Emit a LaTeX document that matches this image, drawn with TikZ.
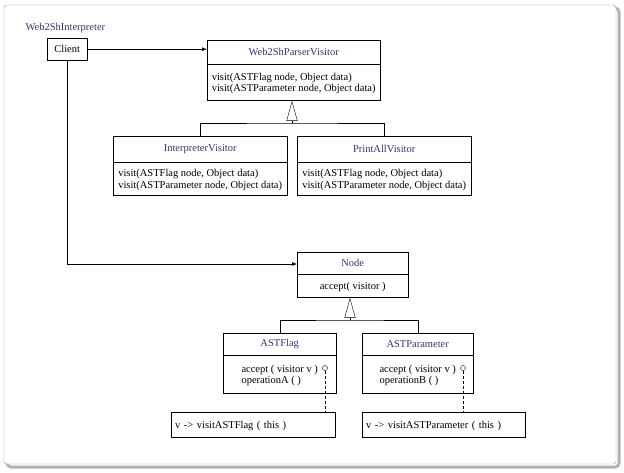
\documentclass[tikz,border=0pt]{standalone}
\usepackage{fontspec}
\setmainfont{Liberation Serif}
\usetikzlibrary{arrows.meta}
\definecolor{titleblue}{HTML}{33337a}
\begin{document}
\begin{tikzpicture}[x=1pt, y=-1pt, font=\fontsize{10.5}{11.5}\selectfont,
  head/.style={draw, anchor=north west, inner sep=0pt, text=titleblue},
  body/.style={draw, anchor=north west, inner sep=3pt, align=left, text depth=0pt},
  note/.style={draw, anchor=north west, inner xsep=4pt, inner ysep=0pt, minimum height=25pt, text depth=0pt},
  inherit/.style={-{Triangle[open, width=11pt, length=20pt]}}]
        \useasboundingbox (0,0) rectangle (624,473);
        % Frame
        \draw[gray!60, line width=3pt, rounded corners=4pt] (7,8) rectangle (619,467);
        \draw[gray!80, fill=white, rounded corners=3pt] (4,5) rectangle (616,464);

        % Classes
        \node [anchor=west, text=titleblue] (pkg) at (22,28) {Web2ShInterpreter};
        \node [head, minimum width=40pt, minimum height=22pt, text=black] (client) at (47,38) {Client};

        \node [head, minimum width=173pt, minimum height=24pt] (pv) at (207,40) {Web2ShParserVisitor};
        \node [body, minimum width=173pt, minimum height=36pt] (pvb) at (pv.south west) {visit(ASTFlag node, Object data)\\visit(ASTParameter node, Object data)};

        \node [head, minimum width=174pt, minimum height=26pt] (iv) at (113,136) {InterpreterVisitor};
        \node [body, minimum width=174pt, minimum height=33pt] (ivb) at (iv.south west) {visit(ASTFlag node, Object data)\\visit(ASTParameter node, Object data)};

        \node [head, minimum width=174pt, minimum height=26pt] (pa) at (297,136) {PrintAllVisitor};
        \node [body, minimum width=174pt, minimum height=33pt] (pab) at (pa.south west) {visit(ASTFlag node, Object data)\\visit(ASTParameter node, Object data)};

        \node [head, minimum width=111pt, minimum height=22pt] (nd) at (297,252) {Node};
        \node [body, minimum width=111pt, minimum height=23pt] (ndb) at (nd.south west) {accept( visitor )};

        \node [head, minimum width=113pt, minimum height=22pt] (fl) at (223,333) {ASTFlag};
        \node [body, minimum width=113pt, minimum height=38pt] (flb) at (fl.south west) {accept ( visitor v )\\operationA ( )};

        \node [head, minimum width=111pt, minimum height=22pt] (pr) at (362,333) {ASTParameter};
        \node [body, minimum width=111pt, minimum height=38pt] (prb) at (pr.south west) {accept ( visitor v )\\operationB ( )};

        % Notes
        \node [note, minimum width=164pt, text width=156pt] (fln) at (171,412) {v -> visitASTFlag ( this )};
        \node [note, minimum width=163pt, text width=155pt] (prn) at (362,412) {v -> visitASTParameter ( this )};
        \coordinate (flc) at (325,368);
        \coordinate (prc) at (463,368);

        % Lines
        \draw [-Latex] (client) -- (pv.west |- client);
        \draw [-Latex] (client.south) |- (nd.west |- 0,264);
        \draw (iv.north) |- (292,123) -| (pa.north);
        \draw [inherit] (292,123) -- (pvb.south -| 292,0);
        \draw (fl.north) |- (350,320) -| (pr.north);
        \draw [inherit] (350,320) -- (ndb.south -| 350,0);
        \draw [densely dashed] (flc) ++(0,2.5) -- (fln.north -| flc);
        \draw [densely dashed] (prc) ++(0,2.5) -- (prn.north -| prc);
        \draw (flc) circle (2.5pt);
        \draw (prc) circle (2.5pt);
\end{tikzpicture}
\end{document}
